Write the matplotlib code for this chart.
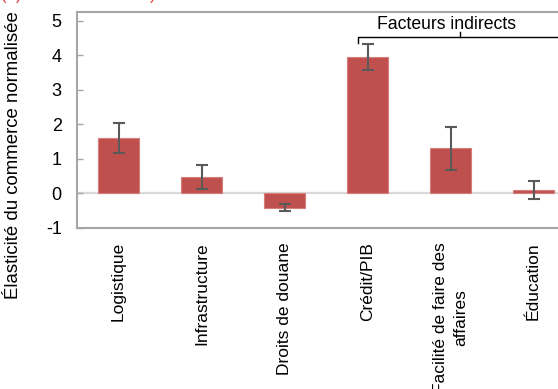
import matplotlib
matplotlib.use("Agg")
import matplotlib.pyplot as plt

plt.rcParams['font.family'] = ['Liberation Sans', 'DejaVu Sans']

categories = ["Logistique", "Infrastructure", "Droits de douane", "Crédit/PIB",
              "Facilité de faire des\naffaires", "Éducation"]
values = [1.61, 0.48, -0.42, 3.95, 1.31, 0.10]
errors = [0.43, 0.35, 0.10, 0.38, 0.62, 0.25]
yticks = [-1, 0, 1, 2, 3, 4, 5]

W, H = 558, 389
fig = plt.figure(figsize=(W / 100, H / 100), dpi=100)
ax = fig.add_axes([77 / W, 1 - 228 / H, 498 / W, 216 / H])

x = list(range(len(categories)))
ax.axhline(0, color='#d9d9d9', lw=1.6, zorder=1)
ax.bar(x, values, width=0.5, color='#c0504d', edgecolor='#d47f7c', linewidth=0.8, zorder=2)
ax.errorbar(x, values, yerr=errors, fmt='none', ecolor='#595959', elinewidth=1.5,
            capsize=4.5, capthick=1.5, zorder=3)

ax.set_xlim(-0.5, 5.5)
ax.set_ylim(-1, 5.25)
ax.set_yticks(yticks)
ax.set_yticklabels([str(t) for t in yticks], fontsize=13)
ax.set_xticks(x)
ax.set_xticklabels(categories, rotation=90, ha='center', va='top', fontsize=12.5,
                   linespacing=1.45)
ax.tick_params(axis='x', length=0, pad=10)
ax.tick_params(axis='y', direction='in', length=4, width=1, color='#a6a6a6', pad=11)
for s in ['left', 'bottom', 'top', 'right']:
    ax.spines[s].set_color('#a6a6a6')
    ax.spines[s].set_linewidth(1.5)

# bracket for indirect factors
xl, xm, xr = 2.88, 4.11, 5.34
yb, yd, yu = 4.52, 4.36, 4.67
ax.plot([xl, xl, xr, xr], [yd, yb, yb, yd], color='black', lw=1, clip_on=False, zorder=4)
ax.plot([xm, xm], [yb, yu], color='black', lw=1, clip_on=False, zorder=4)
ax.text(3.95, 4.88, "Facteurs indirects", ha='center', va='center', fontsize=12.7)

fig.text(14 / W, 1 - 155 / H, "Élasticité du commerce normalisée", rotation=90,
         ha='center', va='center', fontsize=13.4)

# clipped red header fragments
fig.text(1 / W, 1 - 3 / H, "(b)", color='#e03c3c', fontsize=12, va='bottom', ha='left')
fig.text(150 / W, 1 - 3 / H, ")", color='#e03c3c', fontsize=12, va='bottom', ha='left')

fig.savefig("out.png", dpi=100)
